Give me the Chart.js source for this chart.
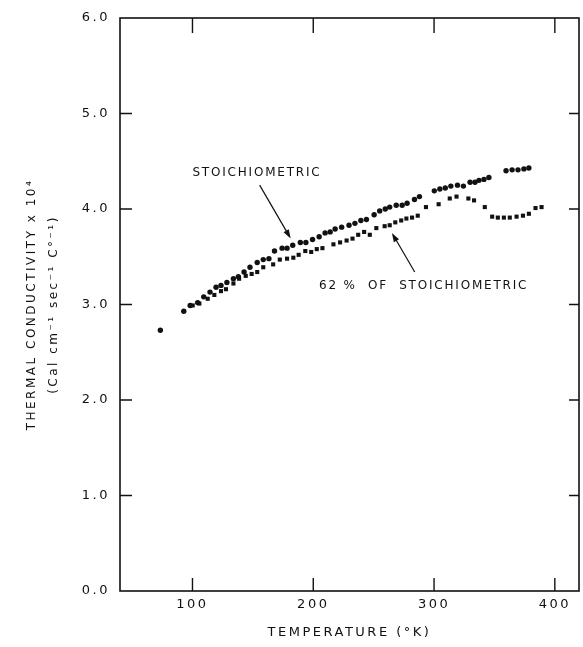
<!DOCTYPE html>
<html>
<head>
<meta charset="utf-8">
<script src="https://cdn.jsdelivr.net/npm/chart.js@4"></script>
<style>
  html, body { margin: 0; padding: 0; background: #fff; }
  #wrap { width: 583px; height: 647px; }
</style>
</head>
<body>
<div id="wrap"><canvas id="cond" width="583" height="647"></canvas></div>
<script>
// stoichiometric sample (round dots)
var tempStoich = [73.4, 92.8, 98.1, 104.3, 109.3, 114.5, 119.5, 123.6, 128.5, 133.9, 138.0, 142.7, 147.6,
  153.6, 158.6, 163.3, 167.9, 174.2, 178.3, 183.0, 189.3, 193.9, 199.4, 204.9, 209.8, 214.0, 218.1,
  223.5, 229.6, 234.5, 239.4, 244.0, 250.4, 255.0, 259.6, 263.3, 268.7, 273.6, 277.7, 283.8, 287.9,
  300.2, 304.8, 309.3, 313.9, 319.4, 324.3, 329.8, 333.9, 337.2, 341.3, 345.4, 359.6, 364.6, 369.5,
  374.4, 378.5];
var condStoich = [2.73, 2.93, 2.99, 3.02, 3.08, 3.13, 3.18, 3.20, 3.23, 3.27, 3.29, 3.34, 3.39,
  3.44, 3.47, 3.48, 3.56, 3.59, 3.59, 3.62, 3.65, 3.65, 3.68, 3.71, 3.75, 3.76, 3.79,
  3.81, 3.83, 3.85, 3.88, 3.89, 3.94, 3.98, 4.00, 4.02, 4.04, 4.04, 4.06, 4.10, 4.13,
  4.19, 4.21, 4.22, 4.24, 4.25, 4.24, 4.28, 4.28, 4.30, 4.31, 4.33, 4.40, 4.41, 4.41,
  4.42, 4.43];

// 62% of stoichiometric (small squares)
var temp62 = [100.2, 105.7, 112.6, 118.1, 123.6, 127.7, 133.9, 138.6, 144.1, 149.0, 153.6, 158.6,
  166.8, 172.3, 178.3, 183.5, 187.9, 193.4, 198.3, 202.9, 207.6, 216.7, 222.2, 227.6, 232.5, 237.2,
  242.1, 246.8, 252.2, 259.1, 263.3, 267.9, 272.8, 277.1, 281.8, 286.5, 293.3, 303.8, 313.0, 318.6,
  328.4, 333.1, 342.0, 348.1, 352.8, 357.8, 362.7, 368.3, 373.6, 378.5, 384.0, 389.0];
var cond62 = [2.99, 3.01, 3.06, 3.10, 3.14, 3.16, 3.22, 3.27, 3.30, 3.32, 3.34, 3.39,
  3.42, 3.47, 3.48, 3.49, 3.52, 3.56, 3.55, 3.58, 3.59, 3.63, 3.65, 3.67, 3.69, 3.73,
  3.76, 3.73, 3.80, 3.82, 3.83, 3.86, 3.88, 3.90, 3.91, 3.93, 4.02, 4.05, 4.11, 4.13,
  4.11, 4.09, 4.02, 3.92, 3.91, 3.91, 3.91, 3.92, 3.93, 3.95, 4.01, 4.02];

var xTicks = [100, 200, 300, 400];
var yTicks = [0, 1, 2, 3, 4, 5, 6];

var ink = "#111";
var letterFont = "'DejaVu Sans', sans-serif";

function toPoints(xs, ys) {
  return xs.map(function (x, i) { return { x: x, y: ys[i] }; });
}

// frame with inward ticks, and the two arrow labels
var framePlugin = {
  id: "frame",
  beforeDraw: function (chart) {
    chart.ctx.letterSpacing = "2.5px";
  },
  afterDatasetsDraw: function (chart) {
    var ctx = chart.ctx;
    var a = chart.chartArea;
    var sx = chart.scales.x, sy = chart.scales.y;
    ctx.save();
    ctx.strokeStyle = ink;
    ctx.lineWidth = 1.6;
    ctx.strokeRect(a.left, a.top, a.right - a.left, a.bottom - a.top);
    ctx.lineWidth = 1.4;
    ctx.beginPath();
    xTicks.forEach(function (v) {
      var px = sx.getPixelForValue(v);
      ctx.moveTo(px, a.bottom); ctx.lineTo(px, a.bottom - 13);
      ctx.moveTo(px, a.top); ctx.lineTo(px, a.top + 15);
    });
    yTicks.slice(1, -1).forEach(function (v) {
      var py = sy.getPixelForValue(v);
      ctx.moveTo(a.left, py); ctx.lineTo(a.left + 12, py);
      ctx.moveTo(a.right, py); ctx.lineTo(a.right - 10, py);
    });
    ctx.stroke();

    // labels
    ctx.fillStyle = ink;
    ctx.font = "12px " + letterFont;
    ctx.letterSpacing = "1.8px";
    ctx.textAlign = "center";
    ctx.textBaseline = "middle";
    ctx.fillText("STOICHIOMETRIC", sx.getPixelForValue(153.4), sy.getPixelForValue(4.38));
    ctx.fillText("62 %  OF  STOICHIOMETRIC", sx.getPixelForValue(291.4), sy.getPixelForValue(3.20));

    function arrow(x0, y0, x1, y1) {
      var p0x = sx.getPixelForValue(x0), p0y = sy.getPixelForValue(y0);
      var p1x = sx.getPixelForValue(x1), p1y = sy.getPixelForValue(y1);
      var ang = Math.atan2(p1y - p0y, p1x - p0x);
      ctx.lineWidth = 1.2;
      ctx.beginPath();
      ctx.moveTo(p0x, p0y);
      ctx.lineTo(p1x - 6 * Math.cos(ang), p1y - 6 * Math.sin(ang));
      ctx.stroke();
      ctx.beginPath();
      ctx.moveTo(p1x, p1y);
      ctx.lineTo(p1x - 9 * Math.cos(ang) + 3 * Math.sin(ang), p1y - 9 * Math.sin(ang) - 3 * Math.cos(ang));
      ctx.lineTo(p1x - 9 * Math.cos(ang) - 3 * Math.sin(ang), p1y - 9 * Math.sin(ang) + 3 * Math.cos(ang));
      ctx.closePath();
      ctx.fill();
    }
    arrow(155.6, 4.25, 181.3, 3.69);
    arrow(284.0, 3.34, 265.1, 3.75);
    ctx.restore();
  }
};

var ctx = document.getElementById("cond").getContext("2d");

var condChart = new Chart(ctx, {
  type: "scatter",
  data: {
    datasets: [
      {
        label: "Stoichiometric",
        data: toPoints(tempStoich, condStoich),
        pointStyle: "circle",
        pointRadius: 2.7,
        backgroundColor: ink,
        borderWidth: 0,
      },
      {
        label: "62% of stoichiometric",
        data: toPoints(temp62, cond62),
        pointStyle: "rect",
        pointRadius: 2.9,
        backgroundColor: ink,
        borderWidth: 0,
      },
    ],
  },
  options: {
    responsive: false,
    animation: false,
    devicePixelRatio: 1,
    layout: {
      padding: { top: 18, right: 1, left: 0, bottom: 0 },
    },
    plugins: {
      legend: { display: false },
      tooltip: { enabled: false },
    },
    scales: {
      x: {
        type: "linear",
        min: 40,
        max: 420,
        grid: { display: false, drawTicks: false },
        border: { display: false },
        afterBuildTicks: function (scale) {
          scale.ticks = xTicks.map(function (v) { return { value: v }; });
        },
        afterFit: function (scale) {
          scale.height = 56;
        },
        ticks: {
          color: ink,
          padding: 6,
          maxRotation: 0,
          autoSkip: false,
          font: { family: letterFont, size: 13 },
        },
        title: {
          display: true,
          text: "TEMPERATURE (°K)",
          color: ink,
          font: { family: letterFont, size: 13 },
          padding: { top: 0, bottom: 7 },
        },
      },
      y: {
        type: "linear",
        min: 0,
        max: 6,
        grid: { display: false, drawTicks: false },
        border: { display: false },
        afterBuildTicks: function (scale) {
          scale.ticks = yTicks.map(function (v) { return { value: v }; });
        },
        afterFit: function (scale) {
          scale.width = 120;
        },
        ticks: {
          color: ink,
          padding: 10,
          font: { family: letterFont, size: 13 },
          callback: function (v) { return Number(v).toFixed(1); },
        },
        title: {
          display: true,
          text: ["THERMAL CONDUCTIVITY x 10⁴", "(Cal cm⁻¹ sec⁻¹ C°⁻¹)"],
          color: ink,
          font: { family: letterFont, size: 12, lineHeight: 1.9 },
          padding: { top: 20, bottom: 0 },
        },
      },
    },
  },
  plugins: [framePlugin],
});
</script>
</body>
</html>
